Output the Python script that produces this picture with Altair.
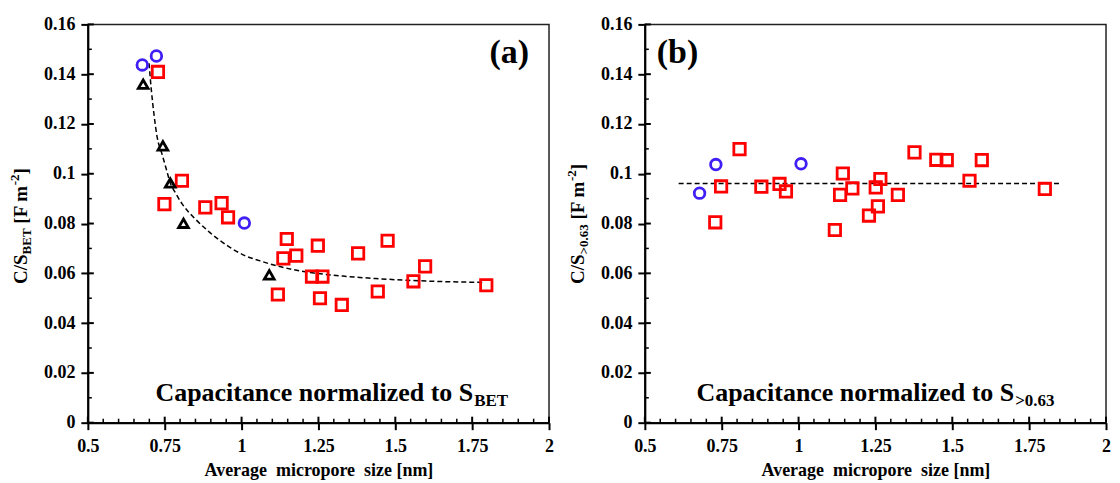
import altair as alt
import pandas as pd

# ---------------- data ----------------
x_major = [0.5, 0.75, 1.0, 1.25, 1.5, 1.75, 2.0]
x_minor = [0.55, 0.6, 0.65, 0.7, 0.8, 0.85, 0.9, 0.95, 1.05, 1.1, 1.15, 1.2,
           1.3, 1.35, 1.4, 1.45, 1.55, 1.6, 1.65, 1.7, 1.8, 1.85, 1.9, 1.95]
y_major = [0, 0.02, 0.04, 0.06, 0.08, 0.1, 0.12, 0.14, 0.16]
y_minor = [0.01, 0.03, 0.05, 0.07, 0.09, 0.11, 0.13, 0.15]

# panel (a)
a_sq_x = [0.728, 0.806, 0.749, 0.882, 0.935, 0.956, 1.147, 1.136, 1.178, 1.248, 1.229,
          1.263, 1.118, 1.255, 1.326, 1.379, 1.475, 1.443, 1.559, 1.597, 1.796]
a_sq_y = [0.1409, 0.0972, 0.0878, 0.0865, 0.0882, 0.0825, 0.0738, 0.0660, 0.0671, 0.0711, 0.0587,
          0.0587, 0.0515, 0.0500, 0.0473, 0.0680, 0.0731, 0.0527, 0.0568, 0.0628, 0.0552]
a_ci_x = [0.677, 0.723, 1.009]
a_ci_y = [0.1437, 0.1473, 0.0802]
a_tr_x = [0.680, 0.744, 0.768, 0.811, 1.090]
a_tr_y = [0.1360, 0.1112, 0.0963, 0.0801, 0.0594]
a_fit_x = [0.699, 0.707, 0.715, 0.725, 0.741, 0.756, 0.768, 0.784, 0.806, 0.848, 0.891,
           0.955, 1.009, 1.060, 1.115, 1.220, 1.330, 1.436, 1.542, 1.650, 1.756, 1.792]
a_fit_y = [0.1444, 0.1330, 0.1240, 0.1150, 0.1080, 0.1015, 0.0963, 0.0925, 0.0880, 0.0820, 0.0770,
           0.0710, 0.0672, 0.0650, 0.0630, 0.0604, 0.0589, 0.0579, 0.0572, 0.0567, 0.0564, 0.0563]

# panel (b)
b_sq_x = [0.808, 0.748, 0.729, 0.879, 0.938, 0.959, 1.118, 1.144, 1.135, 1.175, 1.251,
          1.229, 1.258, 1.266, 1.323, 1.377, 1.448, 1.482, 1.556, 1.596, 1.801]
b_sq_y = [0.1099, 0.0949, 0.0805, 0.0948, 0.0959, 0.0929, 0.0774, 0.1001, 0.0915, 0.0941, 0.0945,
          0.0832, 0.0869, 0.0979, 0.0915, 0.1086, 0.1056, 0.1055, 0.0972, 0.1055, 0.0939]
b_ci_x = [0.678, 0.731, 1.008]
b_ci_y = [0.0922, 0.1037, 0.1040]
b_tr_x = []
b_tr_y = []
b_fit_x = [0.61, 1.85]
b_fit_y = [0.0961, 0.0961]

# ---------------- styling ----------------
FONT = "'Liberation Serif', 'Times New Roman', serif"
W, H = 462, 399
RED, BLUE, BLACK = "#ff0000", "#3f1ff5", "#000000"

xs = alt.Scale(domain=[0.5, 2.0], nice=False, zero=False)
ys = alt.Scale(domain=[0, 0.16], nice=False, zero=False)

X_AXIS = alt.Axis(values=x_major, format=".4~g",
                  title="Average\u00a0 micropore\u00a0 size [nm]", grid=False,
                  domainColor="black", domainWidth=2, tickColor="black", tickWidth=2, tickSize=7,
                  labelFont=FONT, labelFontSize=18, labelFontWeight="bold", labelColor="black",
                  labelPadding=8, labelFlush=False, labelOverlap=False,
                  titleFont=FONT, titleFontSize=18, titleFontWeight="bold", titleColor="black",
                  titlePadding=6)
Y_AXIS = alt.Axis(values=y_major, format=".4~g", title="", grid=False,
                  domainColor="black", domainWidth=2, tickColor="black", tickWidth=2, tickSize=7,
                  labelFont=FONT, labelFontSize=18, labelFontWeight="bold", labelColor="black",
                  labelPadding=6, labelOverlap=False)


def txt(s, x, y, size, angle=0, align="left"):
    mk = dict(text=s, font=FONT, fontWeight="bold", fontSize=size, align=align,
              baseline="alphabetic", color="black")
    if angle:
        mk["angle"] = angle
    return alt.Chart(pd.DataFrame({"k": [0]})).mark_text(**mk).encode(
        x=alt.value(x), y=alt.value(y))


def panel(sq_x, sq_y, ci_x, ci_y, tr_x, tr_y, fit_x, fit_y, letter, letter_x, letter_align,
          ytitle, note_x, note_sub):
    pts = pd.concat([
        pd.DataFrame({"x": sq_x, "y": sq_y, "s": "sq"}),
        pd.DataFrame({"x": ci_x, "y": ci_y, "s": "ci"}),
        pd.DataFrame({"x": tr_x, "y": tr_y, "s": "tr"}),
    ], ignore_index=True)
    fit = pd.DataFrame({"x": fit_x, "y": fit_y})

    X = alt.X("x:Q", scale=xs, axis=X_AXIS)
    Y = alt.Y("y:Q", scale=ys, axis=Y_AXIS)

    line = alt.Chart(fit).mark_line(color="black", strokeWidth=1.5, strokeDash=[5, 3],
                                    interpolate="monotone").encode(x=X, y=Y)

    points = alt.Chart(pts).mark_point(filled=False, strokeWidth=2.8, opacity=1).encode(
        x=X, y=Y,
        shape=alt.Shape("s:N", scale=alt.Scale(domain=["sq", "ci", "tr"],
                                              range=["square", "circle", "triangle-up"]), legend=None),
        color=alt.Color("s:N", scale=alt.Scale(domain=["sq", "ci", "tr"],
                                              range=[RED, BLUE, BLACK]), legend=None),
        size=alt.Size("s:N", scale=alt.Scale(domain=["sq", "ci", "tr"],
                                            range=[130, 95, 100]), legend=None),
    )

    xmaj = alt.Chart(pd.DataFrame({"x": x_major})).mark_rule(color="black", strokeWidth=2).encode(
        x=X, y=alt.value(H), y2=alt.value(H - 6))
    xmin = alt.Chart(pd.DataFrame({"x": x_minor})).mark_rule(color="black", strokeWidth=1.5).encode(
        x=X, y=alt.value(H), y2=alt.value(H - 4))
    ymaj = alt.Chart(pd.DataFrame({"y": y_major})).mark_rule(color="black", strokeWidth=2).encode(
        y=Y, x=alt.value(0), x2=alt.value(6))
    ymin = alt.Chart(pd.DataFrame({"y": y_minor})).mark_rule(color="black", strokeWidth=1.5).encode(
        y=Y, x=alt.value(0), x2=alt.value(4))

    layers = [line, points, xmaj, xmin, ymaj, ymin,
              txt(letter, letter_x, 39, 34, align=letter_align)]

    # y-axis title built from pieces (sub/superscripts)
    main_fs, small_fs = 19, 13
    xb = -61
    y0 = 260
    pre, sub = ytitle
    sub_w = small_fs * (2.001 if sub == "BET" else 2.32)
    y_sub = y0 - 29.6
    y_br = y_sub - sub_w - 0.25 * main_fs
    y_sup = y_br - 38.5
    y_end = y_sup - 10.8
    layers += [
        txt(pre, xb, y0, main_fs, angle=270),
        txt(sub, xb + 4, y_sub, small_fs, angle=270),
        txt("[F m", xb, y_br, main_fs, angle=270),
        txt("-2", xb - 8, y_sup, small_fs, angle=270),
        txt("]", xb, y_end, main_fs, angle=270),
    ]

    # annotation "Capacitance normalized to S_sub"
    layers += [
        txt("Capacitance normalized to S", note_x, 377, 26, align="right"),
        txt(note_sub, note_x + 1, 382, 17, align="left"),
    ]
    return alt.layer(*layers).properties(width=W, height=H)


pa = panel(a_sq_x, a_sq_y, a_ci_x, a_ci_y, a_tr_x, a_tr_y, a_fit_x, a_fit_y,
           "(a)", 442, "right", ("C/S", "BET"), 386, "BET")
pb = panel(b_sq_x, b_sq_y, b_ci_x, b_ci_y, b_tr_x, b_tr_y, b_fit_x, b_fit_y,
           "(b)", 12, "left", ("C/S", ">0.63"), 370, ">0.63")

chart = alt.hconcat(pa, pb, spacing=10).properties(
    padding={"left": 0, "top": 6, "right": 0, "bottom": 0}
).configure_view(stroke="#222222", strokeWidth=1.5)

chart.save("out.html", embed_options={"renderer": "svg", "actions": False})
